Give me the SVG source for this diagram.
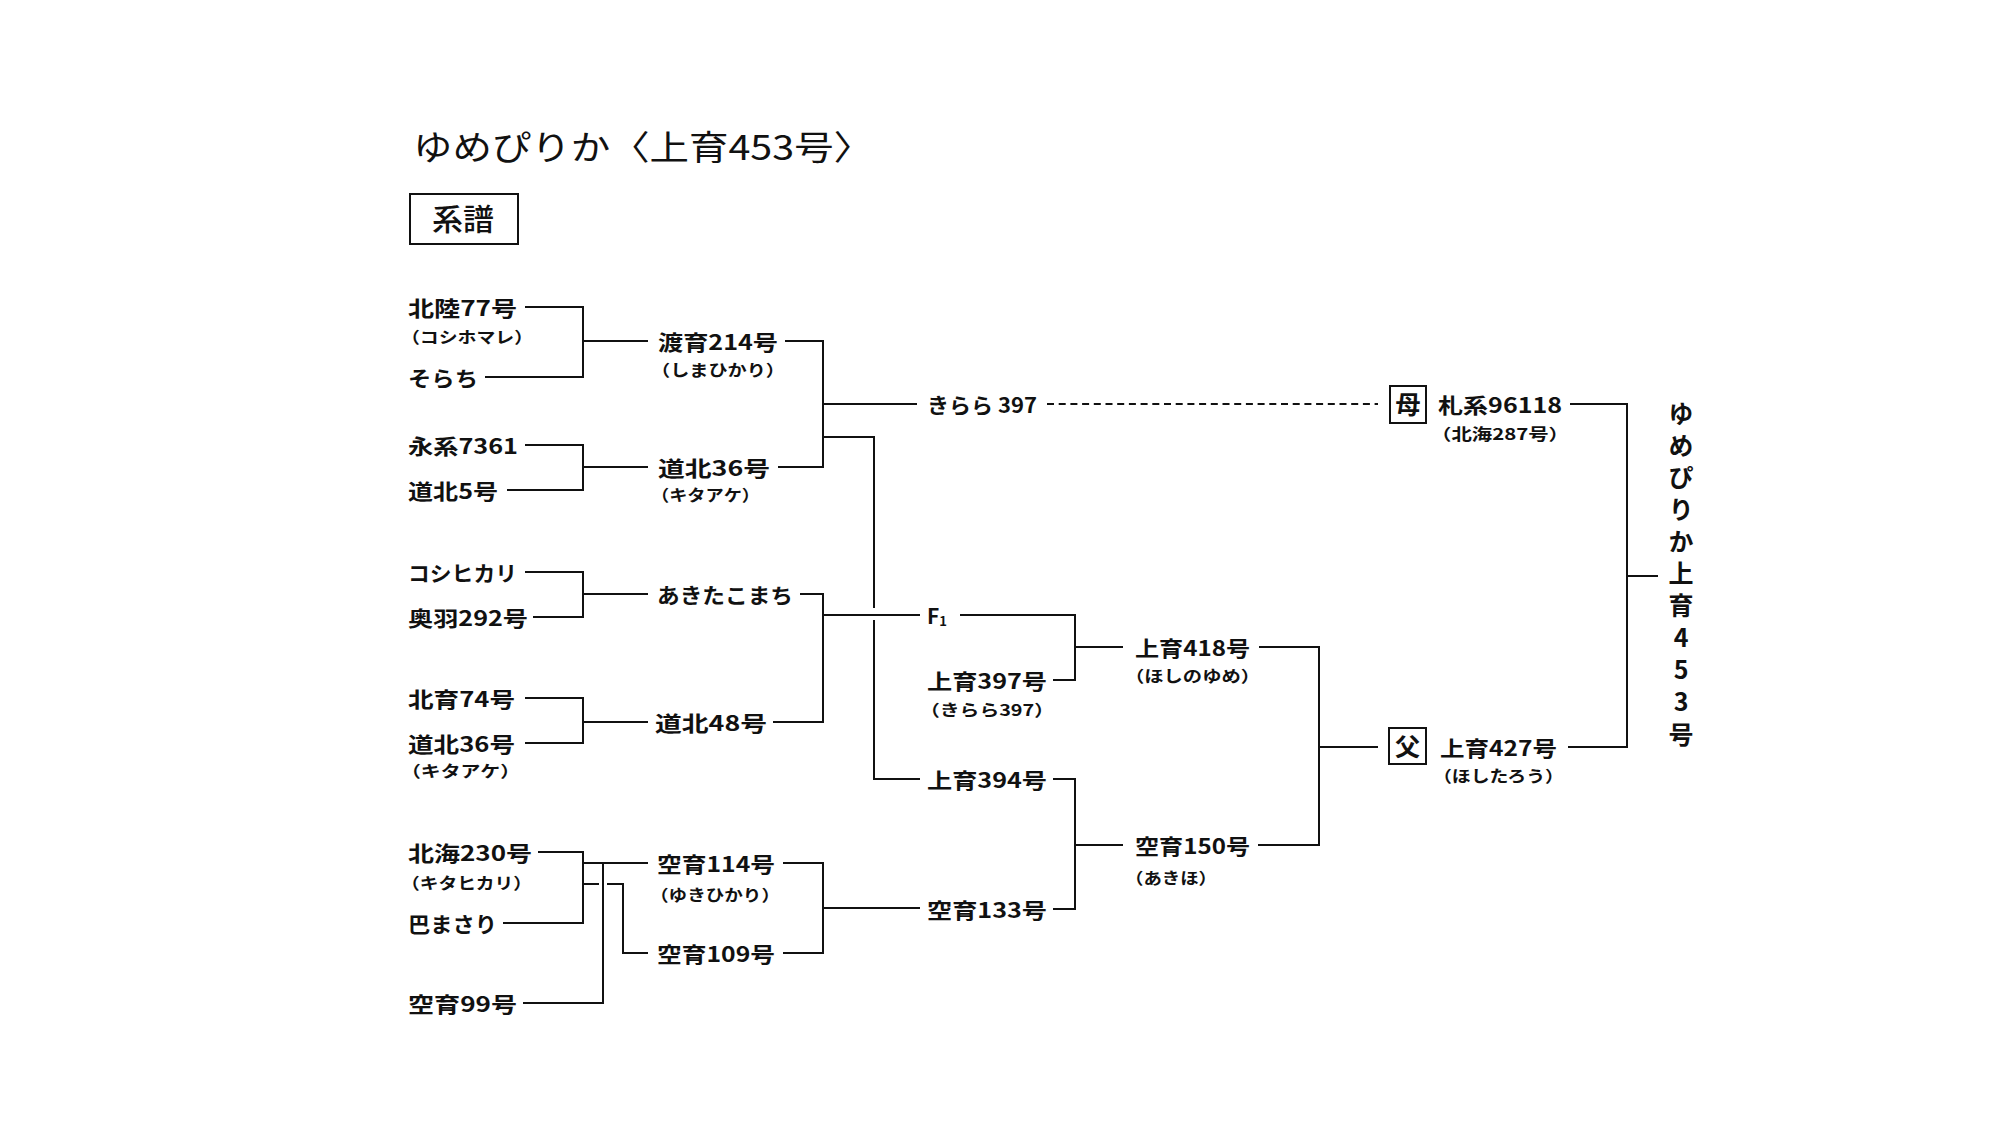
<svg xmlns="http://www.w3.org/2000/svg" width="2000" height="1122" viewBox="0 0 2000 1122">
<style>
text{font-family:"Noto Sans CJK JP","Noto Sans CJK SC",sans-serif;fill:#111}
.l{font-size:21px;font-weight:700}
.s{font-size:16px;font-weight:700}
.t{font-size:34px;font-weight:400}
.h{font-size:30px;font-weight:500}
.v{font-size:25px;font-weight:700;writing-mode:vertical-rl;text-orientation:upright}
.b{font-size:25px;font-weight:700}
.c{stroke:#111;stroke-width:2;fill:none}
.d{stroke:#111;stroke-width:2;fill:none;stroke-dasharray:7 4.7}
.box{stroke:#111;stroke-width:2;fill:#fff}
</style>
<rect width="2000" height="1122" fill="#fff"/>
<g id="title"><text class="t" x="413" y="160" textLength="460" lengthAdjust="spacingAndGlyphs">ゆめぴりか〈上育453号〉</text></g>
<g id="keifu"><rect class="box" x="410" y="194" width="108" height="50"/><text class="h" x="432" y="230" textLength="62" lengthAdjust="spacingAndGlyphs">系譜</text></g>

<g id="connectors">
<path class="c" d="M525,307 H583 V377 H485 M583,341 H648"/>
<path class="c" d="M525,445 H583 V490 H507 M583,467 H648"/>
<path class="c" d="M525,572 H583 V617 H533 M583,594 H648"/>
<path class="c" d="M525,698 H583 V743 H525 M583,722 H648"/>
<path class="c" d="M538,852 H583 V923 H503 M583,863 H648 M583,884 H599 M607,884 H623 V953 H648"/>
<path class="c" d="M523,1003 H603 V863"/>
<path class="c" d="M785,341 H823 V467 H778 M823,404 H917 M823,437 H874 V608 M874,620 V779 H920"/>
<path class="c" d="M800,594 H823 V722 H773 M823,615 H920"/>
<path class="c" d="M783,863 H823 V953 H783 M823,908 H920"/>
<path class="d" d="M1047,404 H1378"/>
<path class="c" d="M960,615 H1075 V680 H1053 M1075,647 H1123"/>
<path class="c" d="M1053,779 H1075 V909 H1053 M1075,845 H1123"/>
<path class="c" d="M1259,647 H1319 V845 H1258 M1319,747 H1378"/>
<path class="c" d="M1570,404 H1627 V747 H1568 M1627,576 H1658"/>
</g>

<g id="hokuriku77"><text class="l" x="408" y="315.5" textLength="109" lengthAdjust="spacingAndGlyphs">北陸77号</text><text class="s" x="401" y="343" textLength="132" lengthAdjust="spacingAndGlyphs">（コシホマレ）</text></g>
<g id="sorachi"><text class="l" x="408" y="385.5" textLength="70" lengthAdjust="spacingAndGlyphs">そらち</text></g>
<g id="eikei7361"><text class="l" x="408" y="453.5" textLength="110" lengthAdjust="spacingAndGlyphs">永系7361</text></g>
<g id="douhoku5"><text class="l" x="408" y="498.5" textLength="90" lengthAdjust="spacingAndGlyphs">道北5号</text></g>
<g id="koshihikari"><text class="l" x="408" y="580.5" textLength="109" lengthAdjust="spacingAndGlyphs">コシヒカリ</text></g>
<g id="ouu292"><text class="l" x="408" y="625.5" textLength="120" lengthAdjust="spacingAndGlyphs">奥羽292号</text></g>
<g id="hokuiku74"><text class="l" x="408" y="706.5" textLength="107" lengthAdjust="spacingAndGlyphs">北育74号</text></g>
<g id="douhoku36b"><text class="l" x="408" y="751.5" textLength="107" lengthAdjust="spacingAndGlyphs">道北36号</text><text class="s" x="401" y="777" textLength="119" lengthAdjust="spacingAndGlyphs">（キタアケ）</text></g>
<g id="hokkai230"><text class="l" x="408" y="860.5" textLength="124" lengthAdjust="spacingAndGlyphs">北海230号</text><text class="s" x="401" y="889" textLength="131" lengthAdjust="spacingAndGlyphs">（キタヒカリ）</text></g>
<g id="tomoemasari"><text class="l" x="408" y="931.5" textLength="89" lengthAdjust="spacingAndGlyphs">巴まさり</text></g>
<g id="kuiku99"><text class="l" x="408" y="1011.5" textLength="109" lengthAdjust="spacingAndGlyphs">空育99号</text></g>

<g id="toiku214"><text class="l" x="658" y="349.5" textLength="120" lengthAdjust="spacingAndGlyphs">渡育214号</text><text class="s" x="651" y="376" textLength="134" lengthAdjust="spacingAndGlyphs">（しまひかり）</text></g>
<g id="douhoku36"><text class="l" x="658" y="475.5" textLength="112" lengthAdjust="spacingAndGlyphs">道北36号</text><text class="s" x="651" y="501" textLength="109" lengthAdjust="spacingAndGlyphs">（キタアケ）</text></g>
<g id="akitakomachi"><text class="l" x="657" y="602.5" textLength="136" lengthAdjust="spacingAndGlyphs">あきたこまち</text></g>
<g id="douhoku48"><text class="l" x="655" y="730.5" textLength="112" lengthAdjust="spacingAndGlyphs">道北48号</text></g>
<g id="kuiku114"><text class="l" x="657" y="871.5" textLength="118" lengthAdjust="spacingAndGlyphs">空育114号</text><text class="s" x="650" y="901" textLength="130" lengthAdjust="spacingAndGlyphs">（ゆきひかり）</text></g>
<g id="kuiku109"><text class="l" x="657" y="961.5" textLength="118" lengthAdjust="spacingAndGlyphs">空育109号</text></g>

<g id="kirara397"><text class="l" x="927" y="412.5" textLength="110" lengthAdjust="spacingAndGlyphs">きらら 397</text></g>
<g id="f1"><text class="l" x="927" y="623.5" font-family="Liberation Serif">F<tspan font-size="13" dy="2">1</tspan></text></g>
<g id="jouiku397"><text class="l" x="927" y="688.5" textLength="120" lengthAdjust="spacingAndGlyphs">上育397号</text><text class="s" x="920" y="716" textLength="134" lengthAdjust="spacingAndGlyphs">（きらら397）</text></g>
<g id="jouiku394"><text class="l" x="927" y="787.5" textLength="120" lengthAdjust="spacingAndGlyphs">上育394号</text></g>
<g id="kuiku133"><text class="l" x="927" y="917.5" textLength="120" lengthAdjust="spacingAndGlyphs">空育133号</text></g>

<g id="jouiku418"><text class="l" x="1135" y="655.5" textLength="115" lengthAdjust="spacingAndGlyphs">上育418号</text><text class="s" x="1125" y="682" textLength="135" lengthAdjust="spacingAndGlyphs">（ほしのゆめ）</text></g>
<g id="kuiku150"><text class="l" x="1135" y="853.5" textLength="115" lengthAdjust="spacingAndGlyphs">空育150号</text><text class="s" x="1125" y="884" textLength="92" lengthAdjust="spacingAndGlyphs">（あきほ）</text></g>

<g id="mother"><rect class="box" x="1390" y="386" width="36" height="37"/><text class="b" x="1408" y="414" text-anchor="middle">母</text><text class="l" x="1438" y="412.5" textLength="124" lengthAdjust="spacingAndGlyphs">札系96118</text><text class="s" x="1431" y="440" textLength="138" lengthAdjust="spacingAndGlyphs">（北海287号）</text></g>
<g id="father"><rect class="box" x="1389" y="728" width="37" height="36"/><text class="b" x="1407.5" y="755.5" text-anchor="middle">父</text><text class="l" x="1440" y="755.5" textLength="117" lengthAdjust="spacingAndGlyphs">上育427号</text><text class="s" x="1433" y="782" textLength="131" lengthAdjust="spacingAndGlyphs">（ほしたろう）</text></g>

<g id="yumepirika"><text class="v" x="1681" y="400.5" textLength="346" lengthAdjust="spacing">ゆめぴりか上育453号</text></g>
</svg>
